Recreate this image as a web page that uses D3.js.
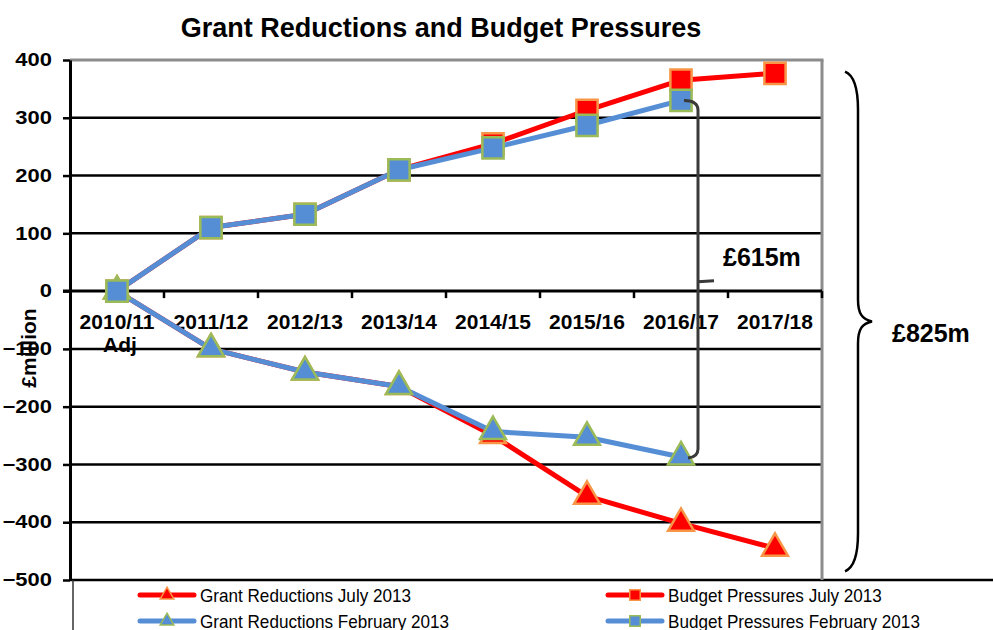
<!DOCTYPE html>
<html>
<head>
<meta charset="utf-8">
<script src="https://cdn.jsdelivr.net/npm/d3@7"></script>
<style>
  body { margin: 0; background: #fff; }
  text { font-family: "Liberation Sans", Arial, sans-serif; fill: #000; }
</style>
</head>
<body>
<script>
var width = 993,
    height = 630;

// data (£ million)
var categories = ["2010/11 Adj", "2011/12", "2012/13", "2013/14", "2014/15", "2015/16", "2016/17", "2017/18"];
var yTicks = [-500, -400, -300, -200, -100, 0, 100, 200, 300, 400];
var grantJuly = [0, -100, -140, -165, -250, -355, -402, -445];
var budgetJuly = [0, 110, 133, 210, 255, 313, 365, 377];
var grantFeb = [0, -100, -140, -165, -243, -253, -287];
var budgetFeb = [0, 110, 133, 210, 248, 287, 330];
var gapLabel = "£615m";
var totalLabel = "£825m";

var RED = "#ff0000", ORANGE = "#f79646", BLUE = "#558ed5", GREEN = "#9bbb59";

// drawing order: July (red) below, February (blue) on top
var series = [
  {name: "Grant Reductions July 2013", values: grantJuly, line: RED, fill: RED, edge: ORANGE, shape: d3.symbolTriangle},
  {name: "Budget Pressures July 2013", values: budgetJuly, line: RED, fill: RED, edge: ORANGE, shape: d3.symbolSquare},
  {name: "Grant Reductions February 2013", values: grantFeb, line: BLUE, fill: BLUE, edge: GREEN, shape: d3.symbolTriangle},
  {name: "Budget Pressures February 2013", values: budgetFeb, line: BLUE, fill: BLUE, edge: GREEN, shape: d3.symbolSquare}
];

var plotLeft = 70, plotRight = 822, plotTop = 60, plotBottom = 580;

var x = d3.scaleBand().domain(categories).range([plotLeft, plotRight]);
var y = d3.scaleLinear().domain([-500, 400]).range([plotBottom, plotTop]);
var cx = function(i) { return x(categories[i]) + x.bandwidth() / 2; };

var svg = d3.select("body").append("svg")
    .attr("width", width)
    .attr("height", height);

// stretch text horizontally (the source picture is a bit wide)
function stretch(sel, k) {
  sel.each(function() {
    var w = this.getComputedTextLength();
    this.setAttribute("textLength", w * k);
    this.setAttribute("lengthAdjust", "spacingAndGlyphs");
  });
}

// title
svg.append("text")
    .attr("x", 441).attr("y", 37)
    .attr("text-anchor", "middle")
    .style("font-size", "27px").style("font-weight", "bold")
    .text("Grant Reductions and Budget Pressures");

// gridlines
svg.selectAll("line.grid")
    .data(yTicks.filter(function(v) { return v !== 0 && v !== 400; }))
  .enter().append("line")
    .attr("class", "grid")
    .attr("x1", plotLeft)
    .attr("x2", function(v) { return v === -500 ? width : plotRight; })
    .attr("y1", function(v) { return y(v); })
    .attr("y2", function(v) { return y(v); })
    .attr("stroke", "#000").attr("stroke-width", 2.5);

// plot border top / right (grey)
svg.append("line")
    .attr("x1", plotLeft).attr("x2", plotRight + 1.5)
    .attr("y1", y(400)).attr("y2", y(400))
    .attr("stroke", "#8c8c8c").attr("stroke-width", 3);
svg.append("line")
    .attr("x1", plotRight).attr("x2", plotRight)
    .attr("y1", y(400)).attr("y2", y(-500))
    .attr("stroke", "#8c8c8c").attr("stroke-width", 3);

// legend box left edge
svg.append("line")
    .attr("x1", 73).attr("x2", 73)
    .attr("y1", y(-500)).attr("y2", height)
    .attr("stroke", "#333").attr("stroke-width", 1.5);

// y axis
var yAxis = svg.append("g")
    .attr("transform", "translate(" + plotLeft + ",0)")
    .call(d3.axisLeft(y).tickValues(yTicks).tickSize(7).tickSizeOuter(0).tickPadding(11));
yAxis.select(".domain").attr("stroke", "#000").attr("stroke-width", 3);
yAxis.selectAll(".tick line").attr("stroke", "#000").attr("stroke-width", 2.5);
yAxis.selectAll(".tick text")
    .style("font-size", "18px").style("font-weight", "bold")
    .style("font-family", "'Liberation Sans', Arial, sans-serif")
    .attr("fill", "#000")
    .call(stretch, 1.22);

// zero line with category ticks
svg.append("line")
    .attr("x1", plotLeft - 7).attr("x2", plotRight)
    .attr("y1", y(0)).attr("y2", y(0))
    .attr("stroke", "#000").attr("stroke-width", 3);
svg.selectAll("line.xtick")
    .data(categories.slice(1).map(function(c) { return x(c); }).concat([plotRight]))
  .enter().append("line")
    .attr("class", "xtick")
    .attr("x1", function(d) { return d; }).attr("x2", function(d) { return d; })
    .attr("y1", y(0)).attr("y2", y(0) + 7)
    .attr("stroke", "#000").attr("stroke-width", 2.5);

// category labels
var xl = svg.selectAll("text.xlab")
    .data(categories)
  .enter().append("text")
    .attr("class", "xlab")
    .attr("text-anchor", "middle")
    .style("font-size", "21px").style("font-weight", "bold");
xl.each(function(c, i) {
  var parts = c.split(" ");
  var t = d3.select(this);
  parts.forEach(function(p, j) {
    t.append("tspan")
        .attr("x", cx(i) + (j ? 3 : 0))
        .attr("y", y(0) + 38 + j * 23)
        .text(p);
  });
});

// y axis title
svg.append("text")
    .attr("transform", "translate(36,348) rotate(-90)")
    .attr("text-anchor", "middle")
    .style("font-size", "21px").style("font-weight", "bold")
    .text("£million");

// series lines
var line = d3.line()
    .x(function(d, i) { return cx(i); })
    .y(function(d) { return y(d); });

var symSize = function(shape) { return shape === d3.symbolSquare ? 450 : 290; };

series.forEach(function(s) {
  var g = svg.append("g");
  g.append("path")
      .attr("d", line(s.values))
      .attr("fill", "none")
      .attr("stroke", s.line).attr("stroke-width", 5)
      .attr("stroke-linejoin", "round");
  g.selectAll("path.mark")
      .data(s.values)
    .enter().append("path")
      .attr("class", "mark")
      .attr("transform", function(d, i) { return "translate(" + cx(i) + "," + y(d) + ")"; })
      .attr("d", d3.symbol(s.shape, symSize(s.shape)))
      .attr("fill", s.fill)
      .attr("stroke", s.edge).attr("stroke-width", 2.5);
});

// £615m bracket between February lines at 2016/17
var bi = grantFeb.length - 1;
var bx = cx(bi) + 17,
    byTop = y(budgetFeb[bi]),
    byBot = y(grantFeb[bi]),
    byMid = (byTop + byBot) / 2;
svg.append("path")
    .attr("d", "M" + (cx(bi) + 3) + "," + byTop +
               " Q" + bx + "," + byTop + " " + bx + "," + (byTop + 10) +
               " L" + bx + "," + (byBot - 8) +
               " Q" + bx + "," + byBot + " " + (cx(bi) + 7) + "," + (byBot + 1) +
               " M" + bx + "," + (byMid + 3) + " L" + (bx + 16) + "," + (byMid + 2))
    .attr("fill", "none")
    .attr("stroke", "#3a3a3a").attr("stroke-width", 3);
svg.append("text")
    .attr("x", bx + 25).attr("y", byMid - 13)
    .style("font-size", "25px").style("font-weight", "bold")
    .text(gapLabel);

// £825m brace on the right
var tx = 845, vx = 858, px = 872,
    t0 = y(380), t1 = y(-485), tm = (t0 + t1) / 2;
svg.append("path")
    .attr("d", "M" + tx + "," + t0 +
               " C" + (tx + 10) + "," + (t0 + 4) + " " + vx + "," + (t0 + 18) + " " + vx + "," + (t0 + 38) +
               " L" + vx + "," + (tm - 22) +
               " C" + vx + "," + (tm - 8) + " " + (vx + 4) + "," + (tm - 2) + " " + px + "," + tm +
               " C" + (vx + 4) + "," + (tm + 2) + " " + vx + "," + (tm + 8) + " " + vx + "," + (tm + 22) +
               " L" + vx + "," + (t1 - 38) +
               " C" + vx + "," + (t1 - 18) + " " + (tx + 10) + "," + (t1 - 4) + " " + tx + "," + t1)
    .attr("fill", "none")
    .attr("stroke", "#000").attr("stroke-width", 2.5);
svg.append("text")
    .attr("x", 892).attr("y", tm + 21)
    .style("font-size", "25px").style("font-weight", "bold")
    .text(totalLabel);

// legend
var legendPos = [
  {x: 140, y: 595}, {x: 608, y: 595},
  {x: 140, y: 621}, {x: 608, y: 621}
];
series.forEach(function(s, i) {
  var p = legendPos[i];
  var g = svg.append("g").attr("transform", "translate(" + p.x + "," + p.y + ")");
  g.append("line")
      .attr("x1", 0).attr("x2", 54)
      .attr("stroke", s.line).attr("stroke-width", 5)
      .attr("stroke-linecap", "round");
  g.append("path")
      .attr("transform", "translate(27,0)")
      .attr("d", d3.symbol(s.shape, s.shape === d3.symbolSquare ? 110 : 80))
      .attr("fill", s.fill)
      .attr("stroke", s.edge).attr("stroke-width", 1.5);
  g.append("text")
      .attr("x", 60).attr("y", 7)
      .style("font-size", "19px")
      .text(s.name)
      .call(stretch, 0.9);
});
</script>
</body>
</html>
